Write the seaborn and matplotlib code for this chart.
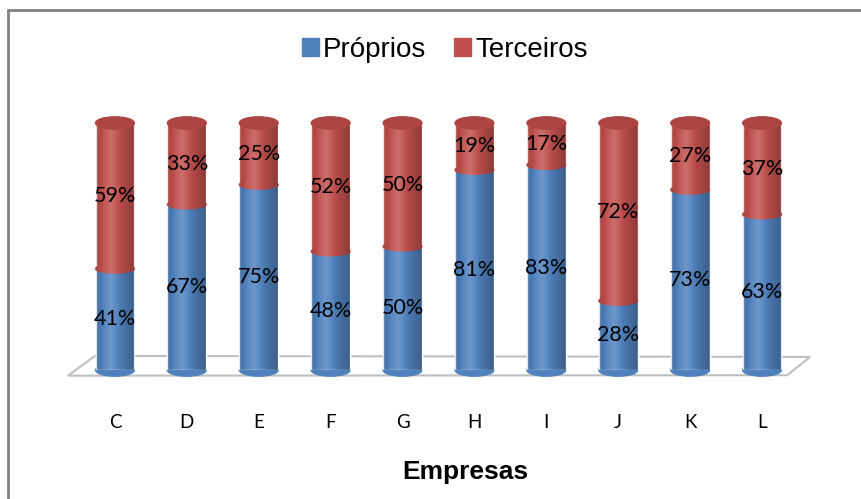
import numpy as np
import pandas as pd
import matplotlib
matplotlib.use("Agg")
import matplotlib.pyplot as plt
from matplotlib.patches import Ellipse, Rectangle, PathPatch, Polygon
from matplotlib.path import Path
from matplotlib.lines import Line2D
import seaborn as sns

# dados
empresas = ["C", "D", "E", "F", "G", "H", "I", "J", "K", "L"]
proprios = [41, 67, 75, 48, 50, 81, 83, 28, 73, 63]
terceiros = [59, 33, 25, 52, 50, 19, 17, 72, 27, 37]

AZUL = "#4F81BD"
VERMELHO = "#C0504D"
TAMPA = "#AC4542"

df = pd.DataFrame({"empresa": empresas, "proprios": proprios, "terceiros": terceiros})
df["total"] = df["proprios"] + df["terceiros"]

sns.set_theme(style="white")
plt.rcParams["font.family"] = ["Liberation Sans", "DejaVu Sans"]
plt.rcParams["text.color"] = "black"
plt.rcParams["xtick.color"] = "black"

fig = plt.figure(figsize=(8.62, 4.99), dpi=100)
ax = fig.add_axes([0.0708, 0.2585, 0.8758, 0.495])

# barras empilhadas: total em vermelho, proprios em azul por cima
largura = 0.54
sns.barplot(data=df, x="empresa", y="total", color=VERMELHO, width=largura,
            saturation=1, ax=ax, zorder=2)
sns.barplot(data=df, x="empresa", y="proprios", color=AZUL, width=largura,
            saturation=1, ax=ax, zorder=2.1)

xlim = (-0.75, 9.75)
ylim = (0, 100)
eh = 5.0  # altura da elipse (unidades de dados)

# gradiente para efeito de cilindro
n = 64
t = np.linspace(0, 1, n)
rgba = np.zeros((1, n, 4))
luz = np.clip(1 - np.abs(t - 0.38) / 0.22, 0, 1)
sombra = np.clip((np.abs(t - 0.38) - 0.15) / 0.5, 0, 1)
rgba[0, :, :3] = (luz > 0)[:, None] * 1.0
rgba[0, :, 3] = np.where(luz > 0, luz * 0.18, sombra * 0.28)

for i, row in df.iterrows():
    x0 = i - largura / 2
    # fundo arredondado
    fundo = Ellipse((i, 0), largura, eh, color=AZUL, zorder=2.05, clip_on=False)
    ax.add_patch(fundo)
    # juncao
    ax.add_patch(Ellipse((i, row["proprios"]), largura, eh * 0.7, color=VERMELHO,
                         zorder=2.2, clip_on=False))
    # sombreamento
    rect = Rectangle((x0, 0), largura, row["total"])
    caminho = Path.make_compound_path(
        rect.get_patch_transform().transform_path(rect.get_path()),
        fundo.get_patch_transform().transform_path(fundo.get_path()))
    clip = PathPatch(caminho, transform=ax.transData)
    im = ax.imshow(rgba, extent=[x0, x0 + largura, -eh / 2, row["total"]],
                   aspect="auto", interpolation="bilinear", zorder=2.5)
    im.set_clip_path(clip)
    # tampa
    ax.add_patch(Ellipse((i, row["total"]), largura, eh, color=TAMPA,
                         zorder=2.6, clip_on=False))
    # rotulos
    ax.text(i, row["proprios"] / 2, f"{row['proprios']}%", ha="center", va="center",
            fontsize=15.5, family="Lato", color="black", zorder=3)
    ax.text(i, row["proprios"] + row["terceiros"] / 2, f"{row['terceiros']}%",
            ha="center", va="center", fontsize=15.5, family="Lato", color="black",
            zorder=3)

# piso
piso = Polygon([[-0.654, -2.3], [-0.278, 5.7], [9.67, 5.3], [9.35, -2.1]],
               closed=True, facecolor="white", edgecolor="#BFBFBF", lw=1.5,
               zorder=0.5, clip_on=False)
ax.add_patch(piso)

ax.set_xlim(*xlim)
ax.set_ylim(*ylim)
for s in ax.spines.values():
    s.set_visible(False)
ax.set_yticks([])
ax.set_xlabel("")
ax.set_ylabel("")
ax.tick_params(axis="x", length=0, pad=32)
for lbl in ax.get_xticklabels():
    lbl.set_fontfamily("Lato")
    lbl.set_fontsize(13.5)
    lbl.set_color("black")

fig.text(465 / 862, 1 - 472 / 499, "Empresas", ha="center", va="center",
         fontsize=19, fontweight="bold", color="black")

# legenda
handles = [Rectangle((0, 0), 1, 1, color=AZUL), Rectangle((0, 0), 1, 1, color=VERMELHO)]
leg = fig.legend(handles, ["Próprios", "Terceiros"], loc="center", ncol=2,
                 bbox_to_anchor=(445 / 862, 1 - 50 / 499), frameon=False, fontsize=20,
                 handlelength=0.6, handleheight=0.6, handletextpad=0.15,
                 columnspacing=1.0)
for txt in leg.get_texts():
    txt.set_color("black")

# moldura
fig.add_artist(Line2D([8 / 862, 8 / 862], [0, 1 - 10 / 499], color="#808080", lw=2))
fig.add_artist(Line2D([8 / 862, 1], [1 - 10 / 499, 1 - 10 / 499], color="#808080", lw=2))

fig.savefig("out.png", dpi=100)
